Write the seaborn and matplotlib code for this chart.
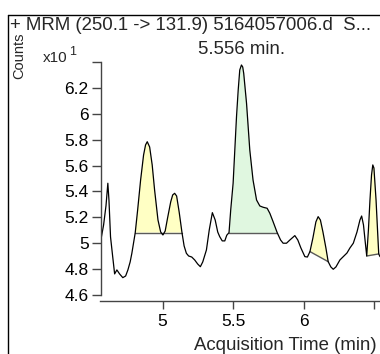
import numpy as np
import seaborn as sns
import matplotlib
matplotlib.use("Agg")
import matplotlib.pyplot as plt
from matplotlib.lines import Line2D

# chromatogram trace (time in min, counts x10)
time = [4.560, 4.582, 4.599, 4.612, 4.620, 4.631, 4.645, 4.660, 4.676, 4.695,
        4.718, 4.738, 4.754, 4.770, 4.782, 4.794, 4.806, 4.823, 4.844, 4.865,
        4.879, 4.891, 4.908, 4.926, 4.943, 4.967, 4.986, 5.002, 5.018, 5.035,
        5.057, 5.071, 5.085, 5.099, 5.117, 5.137, 5.152, 5.168, 5.184, 5.206,
        5.227, 5.248, 5.267, 5.284, 5.310, 5.330, 5.352, 5.372, 5.390, 5.404,
        5.422, 5.440, 5.454, 5.470, 5.482, 5.499, 5.511, 5.523, 5.535, 5.546,
        5.558, 5.567, 5.574, 5.594, 5.617, 5.640, 5.665, 5.688, 5.711, 5.740,
        5.759, 5.782, 5.811, 5.835, 5.853, 5.877, 5.901, 5.936, 5.957, 5.979,
        6.007, 6.025, 6.043, 6.064, 6.085, 6.101, 6.117, 6.135, 6.156, 6.172,
        6.191, 6.208, 6.227, 6.255, 6.279, 6.305, 6.326, 6.350, 6.376, 6.397,
        6.409, 6.422, 6.433, 6.445, 6.457, 6.468, 6.479, 6.488, 6.496, 6.511,
        6.525, 6.530, 6.539]
counts = [5.008, 5.140, 5.290, 5.463, 5.330, 5.047, 4.907, 4.760, 4.791, 4.760,
          4.731, 4.744, 4.791, 4.853, 4.920, 5.000, 5.080, 5.256, 5.488, 5.682,
          5.760, 5.785, 5.744, 5.605, 5.411, 5.178, 5.085, 5.062, 5.093, 5.194,
          5.318, 5.372, 5.385, 5.364, 5.240, 5.080, 4.977, 4.920, 4.899, 4.891,
          4.868, 4.837, 4.816, 4.853, 4.946, 5.101, 5.235, 5.178, 5.085, 5.049,
          5.016, 5.016, 5.060, 5.080, 5.256, 5.463, 5.721, 5.979, 6.186, 6.341,
          6.380, 6.364, 6.315, 6.083, 5.721, 5.488, 5.333, 5.287, 5.277, 5.269,
          5.230, 5.165, 5.080, 5.023, 4.998, 4.998, 5.023, 5.057, 5.023, 4.961,
          4.894, 4.891, 4.933, 5.039, 5.163, 5.204, 5.178, 5.085, 4.961, 4.855,
          4.814, 4.796, 4.814, 4.868, 4.894, 4.922, 4.961, 4.998, 5.085, 5.178,
          5.209, 5.140, 5.023, 4.899, 5.101, 5.333, 5.527, 5.605, 5.581, 5.333,
          5.023, 4.915, 4.894]

# integrated peaks: start/end time and baseline values
peak_start = [4.806, 5.470, 6.043, 6.445]
peak_end = [5.137, 5.811, 6.172, 6.530]
base_start = [5.080, 5.080, 4.933, 4.899]
base_end = [5.080, 5.080, 4.855, 4.915]
peak_colors = ['#ffffc4', '#e0f7e0', '#ffffc4', '#ffffc4']

yticks = [4.6, 4.8, 5.0, 5.2, 5.4, 5.6, 5.8, 6.0, 6.2, 6.4]
ytick_labels = ['4.6', '4.8', '5', '5.2', '5.4', '5.6', '5.8', '6', '6.2', '']
xticks = [5.0, 5.5, 6.0, 6.5]
xtick_labels = ['5', '5.5', '6', '']

sns.set_style('white')
plt.rcParams['font.family'] = ['Liberation Sans', 'DejaVu Sans']

W, H = 380, 354
fig = plt.figure(figsize=(W / 100, H / 100), dpi=100)
ax = fig.add_axes([100.5 / W, 53 / H, 1 - 100.5 / W, (301 - 62) / H])

t = np.array(time)
c = np.array(counts)
for s, e, b0, b1, col in zip(peak_start, peak_end, base_start, base_end, peak_colors):
    m = (t >= s - 1e-9) & (t <= e + 1e-9)
    tt = t[m]
    base = np.interp(tt, [s, e], [b0, b1])
    ax.fill_between(tt, base, c[m], where=c[m] >= base, interpolate=True,
                    color=col, lw=0)
    ax.plot([s, e], [b0, b1], color='#5a5a5a', lw=1)

sns.lineplot(x=time, y=counts, ax=ax, color='black', lw=0.9,
             sort=False, estimator=None)

ax.set_xlim(4.560, 6.539)
ax.set_ylim(4.550, 6.403)
ax.set_yticks(yticks)
ax.set_yticklabels(ytick_labels)
ax.set_xticks(xticks)
ax.set_xticklabels(xtick_labels)
ax.set_xlabel('')
ax.set_ylabel('')

for side in ['top', 'right']:
    ax.spines[side].set_visible(False)
for side in ['left', 'bottom']:
    ax.spines[side].set_color('#444444')
    ax.spines[side].set_linewidth(1)
ax.spines['left'].set_bounds(4.6, 6.4)
ax.tick_params(axis='y', direction='out', length=6.5, width=1, color='#444444',
               pad=2, labelsize=12.5, left=True, labelcolor='black')
ax.tick_params(axis='x', direction='out', length=6, width=1, color='#444444',
               pad=3.5, labelsize=12.5, bottom=True, labelcolor='black')

# outer frame
fig.add_artist(Line2D([7.5 / W, 7.5 / W], [0, 1 - 14.5 / H], color='black', lw=1))
fig.add_artist(Line2D([7.5 / W, 1], [1 - 14.5 / H, 1 - 14.5 / H], color='black', lw=1))

fig.text(10 / W, 1 - 26 / H, '+ MRM (250.1 -> 131.9) 5164057006.d  S...',
         ha='left', va='center', fontsize=13.4)
fig.text(19 / W, 1 - 56 / H, 'Counts', rotation=90, ha='center', va='center',
         fontsize=10.5)
fig.text(43 / W, 1 - 58 / H, 'x10', ha='left', va='center', fontsize=11)
fig.text(69 / W, 1 - 52 / H, '1', ha='left', va='center', fontsize=9)
fig.text(241.5 / W, 1 - 50 / H, '5.556 min.', ha='center', va='center',
         fontsize=13.4)
fig.text(377 / W, 1 - 345 / H, 'Acquisition Time (min)', ha='right',
         va='center', fontsize=13.4)

fig.savefig('out.png', dpi=100)
